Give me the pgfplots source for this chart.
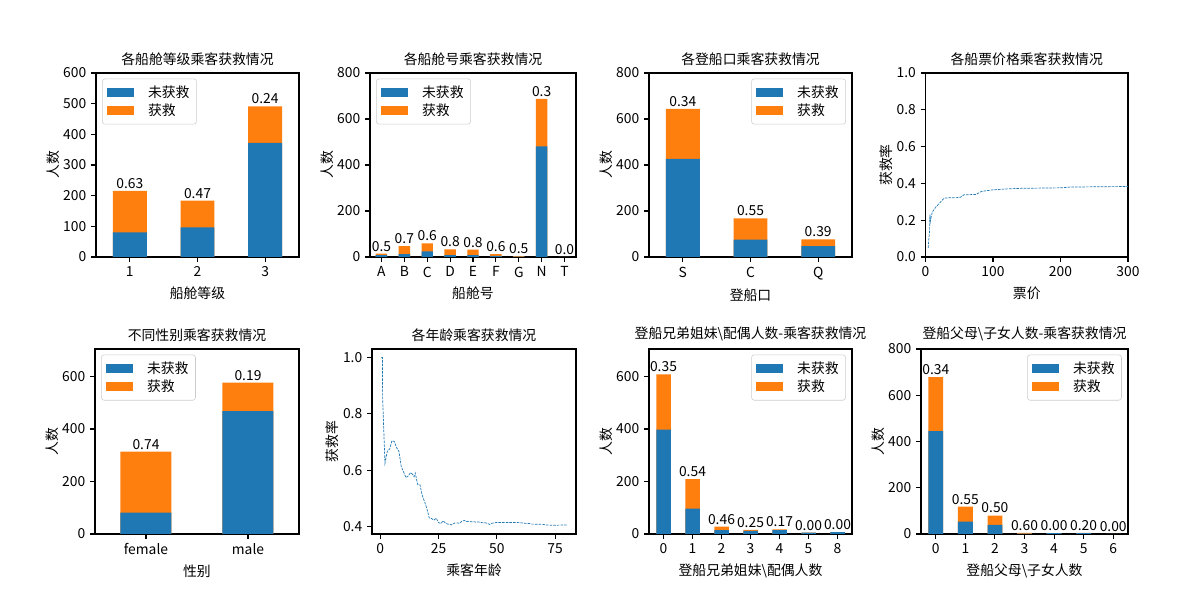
\documentclass[border=0pt]{standalone}
\usepackage{fontspec}
\setmainfont{Noto Sans CJK SC}
\usepackage{pgfplots}
\usepackage{pgfplotstable}
\pgfplotsset{compat=1.18}
\definecolor{tabblue}{HTML}{1F77B4}
\definecolor{taborange}{HTML}{FF7F0E}

% died / survived counts and survival rate per category
\pgfplotstableread{
x d s r
0 80 136 0.63
1 97 87 0.47
2 372 119 0.24
}\tpclass
\pgfplotstableread{
x d s r
0 8 7 0.5
1 12 35 0.7
2 24 35 0.6
3 8 25 0.8
4 8 24 0.8
5 5 8 0.6
6 2 2 0.5
7 481 206 0.3
8 1 0 0.0
}\tcabin
\pgfplotstableread{
x d s r
0 427 217 0.34
1 75 93 0.55
2 47 30 0.39
}\tembark
\pgfplotstableread{
x d s r
0 81 233 0.74
1 468 109 0.19
}\tsex
\pgfplotstableread{
x d s r
0 398 210 0.35
1 97 112 0.54
2 15 13 0.46
3 12 4 0.25
4 15 3 0.17
5 5 0 0.00
6 7 0 0.00
}\tsibsp
\pgfplotstableread{
x d s r
0 445 233 0.34
1 53 65 0.55
2 40 40 0.50
3 2 3 0.60
4 4 0 0.00
5 4 1 0.20
6 1 0 0.00
}\tparch
% cumulative survival rate
\pgfplotstableread{
fare rate
4 0.05
5 0.10
6 0.14
6.5 0.23
7 0.19
7.5 0.20
8 0.21
10 0.244
13 0.26
15 0.27
20 0.29
25 0.31
28 0.32
35 0.322
45 0.322
52 0.325
57 0.338
75 0.34
82 0.355
90 0.36
100 0.365
120 0.37
140 0.373
200 0.376
214 0.38
263 0.382
300 0.383
}\tfare
\pgfplotstableread{
age rate
0.42 1.0
0.67 1.0
0.92 1.0
1 0.857
2 0.625
3 0.667
4 0.675
5 0.705
6 0.702
7 0.68
8 0.667
9 0.613
10 0.594
11 0.574
12 0.58
13 0.592
14 0.584
14.5 0.577
15 0.59
16 0.55
17 0.549
18 0.511
19 0.488
20 0.464
21 0.431
22 0.429
23 0.423
24 0.43
25 0.415
26 0.411
27 0.421
28 0.412
29 0.409
30 0.408
30.5 0.406
31 0.409
32 0.413
33 0.413
34 0.412
35 0.419
36 0.422
37 0.418
38 0.419
39 0.417
40 0.418
41 0.416
42 0.417
43 0.415
44 0.414
45 0.414
46 0.411
47 0.408
48 0.412
49 0.414
50 0.415
52 0.415
54 0.415
56 0.415
58 0.415
60 0.414
62 0.412
64 0.411
65 0.409
66 0.409
70 0.408
71 0.406
74 0.405
80 0.406
}\tage

\pgfplotsset{
  mpl/.style={
    scale only axis, anchor=south west,
    axis line style={line width=0.8pt},
    tick align=outside, tick pos=left,
    major tick length=3.5pt,
    every tick/.style={black, line width=0.8pt},
    /pgf/number format/assume math mode=true,
    tick label style={font=\normalsize},
    label style={font=\normalsize},
    ylabel shift=-4pt,
    title style={font=\normalsize, yshift=-4pt},
    legend style={font=\normalsize, draw=black!20, rounded corners=2pt,
      fill=white, inner sep=3pt, row sep=-1pt, legend cell align=left,
      /tikz/every odd column/.append style={column sep=8pt}},
  },
  mplbar/.style={mpl, ybar, bar width=0.5, bar shift=0pt, ymin=0, xtick=data,
    legend image code/.code={\fill[##1, sharp corners] (1pt,-3.5pt) rectangle (21pt,3.5pt);},
    every node near coord/.append style={font=\normalsize, black, inner sep=1.5pt}},
  ul/.style={legend style={at={(0.03,0.97)}, anchor=north west}},
  ur/.style={legend style={at={(0.97,0.97)}, anchor=north east}},
  died/.style={fill=tabblue, draw=none},
  surv/.style={fill=taborange, draw=none},
  rateline/.style={color=tabblue, line width=0.5pt, dash pattern=on 1.85pt off 0.8pt},
}
% orange bar = total (with rate label), blue bar = died drawn over it
\newcommand{\survbars}[1]{%
  \addplot[surv, forget plot, nodes near coords, point meta=explicit symbolic]
    table[x=x, y expr=\thisrow{d}+\thisrow{s}, meta=r] {#1};
  \addplot[died] table[x=x, y=d] {#1};
  \addlegendimage{surv}
  \legend{未获救,获救}}

\begin{document}
\begin{tikzpicture}
\useasboundingbox (0,0) rectangle (12in,6in);

% row 1
\begin{axis}[mplbar, ul, at={(0.96in,3.43in)}, width=2.03in, height=1.84in,
  xmin=-0.5, xmax=2.5, ymax=600, ytick={0,100,...,600},
  xticklabels={1,2,3},
  title={各船舱等级乘客获救情况}, xlabel={船舱等级}, ylabel={人数}]
\survbars{\tpclass}
\end{axis}

\begin{axis}[mplbar, ul, at={(3.70in,3.43in)}, width=2.06in, height=1.84in,
  xmin=-0.5, xmax=8.5, ymax=800, ytick={0,200,...,800},
  xticklabels={A,B,C,D,E,F,G,N,T},
  title={各船舱号乘客获救情况}, xlabel={船舱号}, ylabel={人数}]
\survbars{\tcabin}
\end{axis}

\begin{axis}[mplbar, ur, at={(6.49in,3.43in)}, width=2.03in, height=1.84in,
  xmin=-0.5, xmax=2.5, ymax=800, ytick={0,200,...,800},
  xticklabels={S,C,Q},
  title={各登船口乘客获救情况}, xlabel={登船口}, ylabel={人数}]
\survbars{\tembark}
\end{axis}

\begin{axis}[mpl, at={(9.255in,3.43in)}, width=2.025in, height=1.84in,
  xmin=0, xmax=300, ymin=0, ymax=1, xtick={0,100,200,300}, ytick={0,0.2,...,1.0},
  yticklabel style={/pgf/number format/.cd, fixed, fixed zerofill, precision=1},
  title={各船票价格乘客获救情况}, xlabel={票价}, ylabel={获救率}]
\addplot[rateline] table[x=fare, y=rate] {\tfare};
\end{axis}

% row 2
\begin{axis}[mplbar, ul, at={(0.95in,0.66in)}, width=2.04in, height=1.85in,
  xmin=-0.5, xmax=1.5, ymax=705, ytick={0,200,400,600},
  xticklabels={female,male},
  title={不同性别乘客获救情况}, xlabel={性别}, ylabel={人数}]
\survbars{\tsex}
\end{axis}

\begin{axis}[mpl, at={(3.72in,0.66in)}, width=2.04in, height=1.85in,
  xmin=-3.56, xmax=83.98, ymin=0.374, ymax=1.03, xtick={0,25,50,75}, ytick={0.4,0.6,0.8,1.0},
  yticklabel style={/pgf/number format/.cd, fixed, fixed zerofill, precision=1},
  title={各年龄乘客获救情况}, xlabel={乘客年龄}, ylabel={获救率}]
\addplot[rateline] table[x=age, y=rate] {\tage};
\end{axis}

\begin{axis}[mplbar, ur, at={(6.49in,0.66in)}, width=2.03in, height=1.85in,
  xmin=-0.5, xmax=6.5, ymax=705, ytick={0,200,400,600},
  xticklabels={0,1,2,3,4,5,8},
  title={登船兄弟姐妹\textbackslash 配偶人数-乘客获救情况}, xlabel={登船兄弟姐妹\textbackslash 配偶人数}, ylabel={人数}]
\survbars{\tsibsp}
\end{axis}

\begin{axis}[mplbar, ur, at={(9.21in,0.66in)}, width=2.07in, height=1.85in,
  xmin=-0.5, xmax=6.5, ymax=800, ytick={0,200,...,800},
  xticklabels={0,1,2,3,4,5,6},
  title={登船父母\textbackslash 子女人数-乘客获救情况}, xlabel={登船父母\textbackslash 子女人数}, ylabel={人数}]
\survbars{\tparch}
\end{axis}
\end{tikzpicture}
\end{document}
